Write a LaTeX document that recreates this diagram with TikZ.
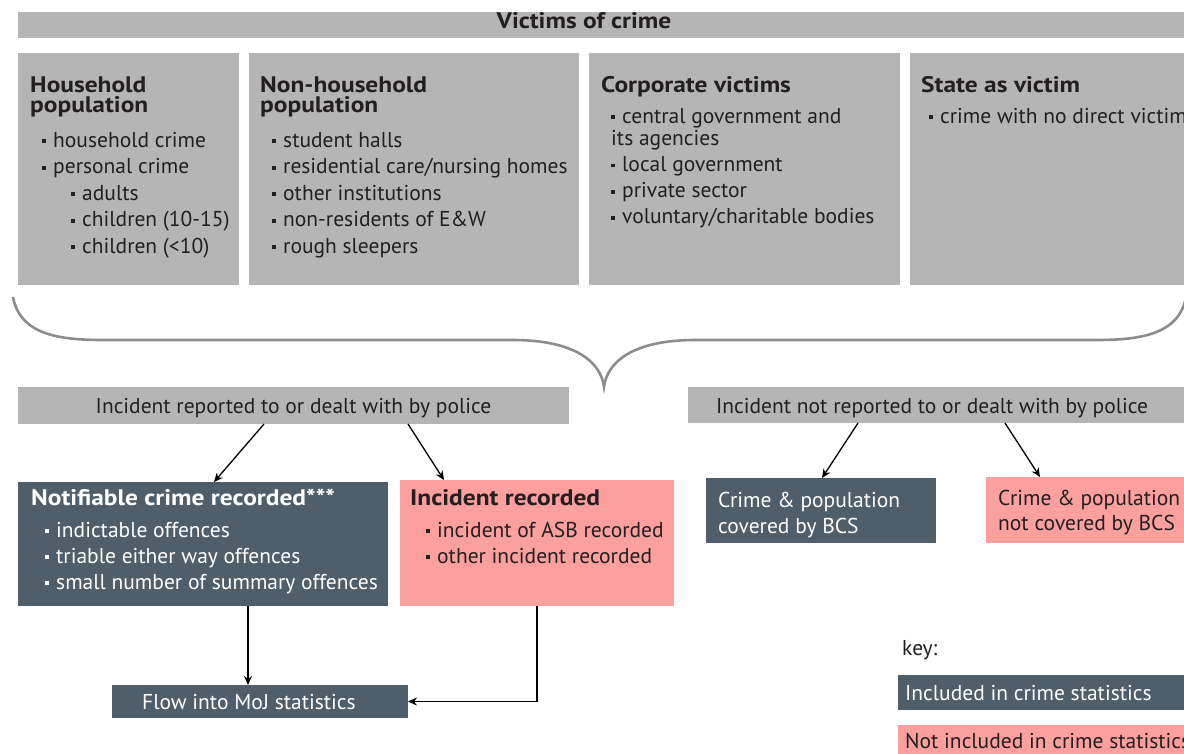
\documentclass[tikz,border=0pt]{standalone}
\usepackage{fontspec}
\setmainfont{PT Sans}
\newfontfamily\ttlfont{PT Sans}[FakeStretch=1.13]
\usetikzlibrary{arrows.meta}
\definecolor{boxgrey}{HTML}{B5B5B5}
\definecolor{slate}{HTML}{4E5E6A}
\definecolor{pinkbox}{HTML}{FB9F9F}
\definecolor{bracegrey}{HTML}{8C8C8C}
\definecolor{ink}{HTML}{231F20}
\newcommand\bu{\makebox[11pt][l]{\raisebox{4pt}{\rule{3.6pt}{3.6pt}}}}
\newcommand\lns[2]{\vtop{\baselineskip=#1\lineskiplimit=-50pt\lineskip=0pt #2}}
\begin{document}
\begin{tikzpicture}[x=1pt,y=-1pt,
  bx/.style={anchor=north west,inner sep=0pt,outer sep=0pt},
  gbox/.style={bx,fill=boxgrey},
  sbox/.style={bx,fill=slate},
  pbox/.style={bx,fill=pinkbox},
  txt/.style={anchor=base west,inner sep=0pt,text=ink,font=\fontsize{21.5}{26}\selectfont},
  wtxt/.style={txt,text=white},
  ttl/.style={txt,font=\ttlfont\fontsize{22.5}{20}\selectfont\bfseries},
  arr/.style={line width=1.3pt,-{Stealth[length=9pt,width=8pt]}}]
\useasboundingbox (0,0) rectangle (1184,753);
\clip (0,0) rectangle (1184,753);
% top bar
\node[gbox,minimum width=1200pt,minimum height=26pt] (top) at (18,12) {};
\node[ttl,anchor=base] (toptxt) at (584,28) {Victims of crime};
% victim boxes
\node[gbox,minimum width=221pt,minimum height=232pt] (hh) at (18,53) {};
\node[gbox,minimum width=330pt,minimum height=232pt] (nhh) at (249,53) {};
\node[gbox,minimum width=311pt,minimum height=232pt] (corp) at (589,53) {};
\node[gbox,minimum width=300pt,minimum height=232pt] (state) at (910,53) {};
\node[ttl] (hht) at (30,92) {\lns{20pt}{\hbox{Household}\hbox{population}}};
\node[txt] (hhl) at (42,147) {\lns{26.5pt}{\hbox{\bu household crime}\hbox{\bu personal crime}\hbox{\hspace{29pt}\bu adults}\hbox{\hspace{29pt}\bu children (10-15)}\hbox{\hspace{29pt}\bu children (<10)}}};
\node[ttl] (nhht) at (260,92) {\lns{20pt}{\hbox{Non-household}\hbox{population}}};
\node[txt] (nhhl) at (272,147) {\lns{26.5pt}{\hbox{\bu student halls}\hbox{\bu residential care/nursing homes}\hbox{\bu other institutions}\hbox{\bu non-residents of E\&W}\hbox{\bu rough sleepers}}};
\node[ttl] (corpt) at (601,92) {Corporate victims};
\node[txt] (corpl1) at (611,123) {\bu central government and};
\node[txt] (corpl2) at (611,145) {\lns{26.3pt}{\hbox{its agencies}\hbox{\bu local government}\hbox{\bu private sector}\hbox{\bu voluntary/charitable bodies}}};
\node[ttl] (statet) at (921,92) {State as victim};
\node[txt] (statel) at (929,123) {\bu crime with no direct victim};
% brace
\draw[bracegrey,line width=2.6pt] (13,297) .. controls (20,335) and (60,340) .. (103,340) -- (513,340) .. controls (575,340) and (601,362) .. (604,387) .. controls (607,362) and (633,340) .. (695,340) -- (1096,340) .. controls (1139,340) and (1179,335) .. (1186,297);
% police boxes
\node[gbox,minimum width=551pt,minimum height=37pt] (rep) at (18,387) {};
\node[txt,anchor=base] (reptxt) at (293.5,413) {Incident reported to or dealt with by police};
\node[gbox,minimum width=520pt,minimum height=36pt] (nrep) at (688,387) {};
\node[txt] (nreptxt) at (716,413) {Incident not reported to or dealt with by police};
% outcome boxes
\node[sbox,minimum width=370pt,minimum height=124pt] (notif) at (18,482) {};
\node[ttl,text=white] (notift) at (31,505) {Notifiable crime recorded***};
\node[wtxt] (notifl) at (45,537) {\lns{26pt}{\hbox{\bu indictable offences}\hbox{\bu triable either way offences}\hbox{\bu small number of summary offences}}};
\node[pbox,minimum width=274pt,minimum height=126pt] (increc) at (400,480) {};
\node[ttl] (increct) at (410,505) {Incident recorded};
\node[txt] (increcl) at (426,537) {\lns{26pt}{\hbox{\bu incident of ASB recorded}\hbox{\bu other incident recorded}}};
\node[sbox,minimum width=230pt,minimum height=65pt] (bcs) at (706,478) {};
\node[wtxt] (bcstxt) at (718,507) {\lns{26pt}{\hbox{Crime \& population}\hbox{covered by BCS}}};
\node[pbox,minimum width=220pt,minimum height=66pt] (nbcs) at (986,477) {};
\node[txt] (nbcstxt) at (998,505) {\lns{25pt}{\hbox{Crime \& population}\hbox{not covered by BCS}}};
\node[sbox,minimum width=296pt,minimum height=33pt] (flow) at (112,685) {};
\node[wtxt] (flowtxt) at (142,709) {Flow into MoJ statistics};
% key
\node[txt] (key) at (902,655) {key:};
\node[sbox,minimum width=300pt,minimum height=35pt] (incl) at (898,675) {};
\node[wtxt] (incltxt) at (905,700) {Included in crime statistics};
\node[pbox,minimum width=300pt,minimum height=40pt] (nincl) at (898,725) {};
\node[txt] (nincltxt) at (905,748) {Not included in crime statistics};
% arrows
\draw[arr] ([xshift=-29.5pt]rep.south) -- ([xshift=11pt]notif.north);
\draw[arr] ([xshift=114.5pt]rep.south) -- ([xshift=-93pt]increc.north);
\draw[arr] ([xshift=-90pt]nrep.south) -- ([xshift=1pt]bcs.north);
\draw[arr] ([xshift=57pt]nrep.south) -- ([xshift=-56pt]nbcs.north);
\draw[arr] ([xshift=45pt]notif.south) -- ([xshift=45pt]notif.south |- flow.north);
\draw[arr] (increc.south) |- (flow.east);
\end{tikzpicture}
\end{document}
